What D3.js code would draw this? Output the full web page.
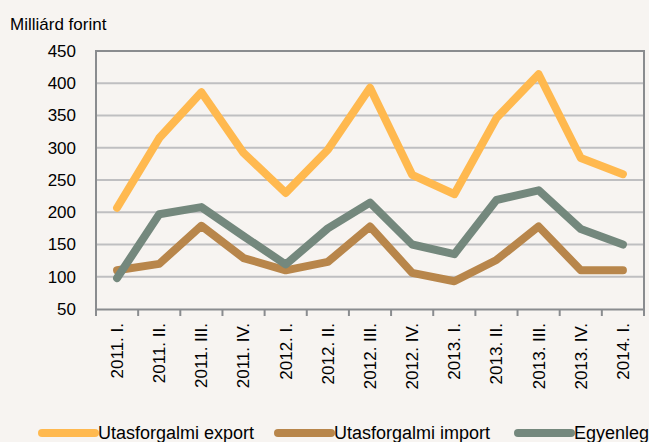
<!DOCTYPE html>
<html>
<head>
<meta charset="utf-8">
<script src="https://cdn.jsdelivr.net/npm/d3@7"></script>
<style>
    body { margin: 0; background: #f7f4f1; }
    svg text { font-family: "Liberation Sans", Arial, sans-serif; fill: #000; }
</style>
</head>
<body>
<svg id="chart" width="649" height="442"></svg>
<script>
// Quarters on the x axis
const categories = ["2011. I.", "2011. II.", "2011. III.", "2011. IV.",
    "2012. I.", "2012. II.", "2012. III.", "2012. IV.",
    "2013. I.", "2013. II.", "2013. III.", "2013. IV.", "2014. I."];

// Series values (billion HUF)
const exportValues = [207, 315, 386, 292, 230, 297, 393, 258, 228, 346, 414, 284, 259];
const importValues = [110, 120, 179, 129, 110, 123, 178, 106, 93, 126, 178, 110, 110];
const balanceValues = [98, 197, 208, 163, 119, 175, 215, 150, 135, 219, 234, 174, 150];

const yTicks = [50, 100, 150, 200, 250, 300, 350, 400, 450];

const series = [
    {name: "Utasforgalmi export", values: exportValues, color: "#ffb94f"},
    {name: "Utasforgalmi import", values: importValues, color: "#b8864b"},
    {name: "Egyenleg", values: balanceValues, color: "#74887d"}
];

let svg = d3.select("#chart");

let margin = {left: 96, right: 5, top: 51, bottom: 133};
let width = 649 - margin.left - margin.right,
    height = 442 - margin.top - margin.bottom;

let x = d3.scaleBand().domain(categories).range([margin.left, margin.left + width]);
let y = d3.scaleLinear().domain([50, 450]).range([margin.top + height, margin.top]);

// Horizontal gridlines
svg.append("g")
    .selectAll("line")
    .data(yTicks.slice(1, -1))
    .enter().append("line")
    .attr("x1", margin.left)
    .attr("x2", margin.left + width)
    .attr("y1", d => y(d))
    .attr("y2", d => y(d))
    .style("stroke", "#bfbfc1")
    .style("stroke-width", 2);

// Plot frame (top, left, right)
svg.append("path")
    .attr("d", `M${margin.left},${margin.top + height}V${margin.top}H${margin.left + width}V${margin.top + height}`)
    .style("fill", "none")
    .style("stroke", "#8a8c8f")
    .style("stroke-width", 2);

// Y axis labels
let yAxis = d3.axisLeft(y).tickValues(yTicks).tickSize(0).tickPadding(20);
let yg = svg.append("g").attr("transform", `translate(${margin.left},0)`).call(yAxis);
yg.select(".domain").remove();
yg.selectAll("text")
    .style("font-size", "17px")
    .style("font-family", "Liberation Sans, Arial, sans-serif")
    .attr("fill", "#000");

// X axis with boundary ticks
let xAxis = d3.axisBottom(x).tickSize(0).tickFormat("");
let xg = svg.append("g").attr("transform", `translate(0,${margin.top + height})`).call(xAxis);
xg.select(".domain").style("stroke", "#8a8c8f").style("stroke-width", 2);

let bounds = categories.map(c => x(c)).concat([margin.left + width]);
xg.selectAll(".bound")
    .data(bounds)
    .enter().append("line")
    .attr("class", "bound")
    .attr("x1", d => d).attr("x2", d => d)
    .attr("y1", 0).attr("y2", 7)
    .style("stroke", "#8a8c8f")
    .style("stroke-width", 2);

// Rotated category labels
svg.append("g")
    .selectAll("text")
    .data(categories)
    .enter().append("text")
    .attr("transform", d => `translate(${x(d) + x.bandwidth() / 2},${margin.top + height + 14}) rotate(-90)`)
    .attr("text-anchor", "end")
    .attr("dy", "0.35em")
    .style("font-size", "17px")
    .text(d => d);

// Lines
let line = d3.line()
    .x((d, i) => x(categories[i]) + x.bandwidth() / 2)
    .y(d => y(d));

svg.append("g")
    .selectAll("path")
    .data(series)
    .enter().append("path")
    .attr("d", d => line(d.values))
    .style("fill", "none")
    .style("stroke", d => d.color)
    .style("stroke-width", 8)
    .style("stroke-linecap", "round")
    .style("stroke-linejoin", "round");

// Unit title
svg.append("text")
    .attr("x", 10)
    .attr("y", 30)
    .style("font-size", "17px")
    .text("Milliárd forint");

// Legend
let legendX = [42, 278, 518];
let legend = svg.append("g")
    .selectAll("g")
    .data(series)
    .enter().append("g")
    .attr("transform", (d, i) => `translate(${legendX[i]},433)`);

legend.append("line")
    .attr("x1", 0).attr("x2", 53)
    .attr("y1", 0).attr("y2", 0)
    .style("stroke", d => d.color)
    .style("stroke-width", 8)
    .style("stroke-linecap", "round");

legend.append("text")
    .attr("x", 56)
    .attr("dy", "0.35em")
    .style("font-size", "18px")
    .text(d => d.name);
</script>
</body>
</html>
